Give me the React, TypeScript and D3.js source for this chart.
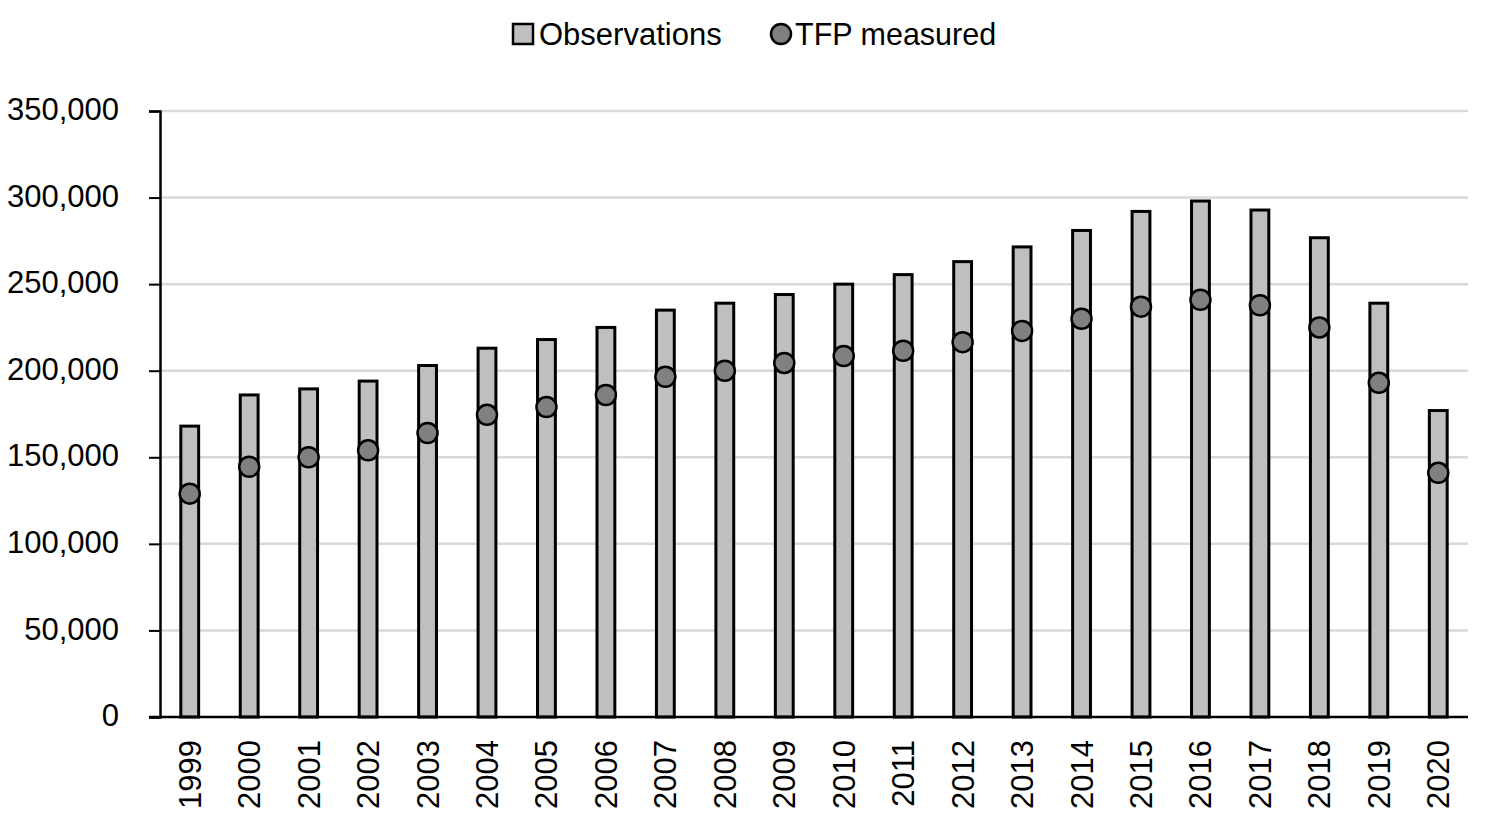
import React, { useEffect, useRef } from "react";
import * as d3 from "d3";

const years = [
  "1999", "2000", "2001", "2002", "2003", "2004", "2005", "2006", "2007", "2008", "2009",
  "2010", "2011", "2012", "2013", "2014", "2015", "2016", "2017", "2018", "2019", "2020",
];
const observations = [
  168000, 186000, 189500, 194000, 203000, 213000, 218000, 225000, 235000, 239000, 244000,
  250000, 255500, 263000, 271500, 281000, 292000, 298000, 292800, 276800, 239000, 177000,
];
const tfpMeasured = [
  129000, 144500, 150000, 154000, 164000, 174500, 179000, 186000, 196500, 200000, 204500,
  208500, 211500, 216500, 223000, 230000, 237000, 241000, 237800, 225000, 193000, 141000,
];
const yTicks = [0, 50000, 100000, 150000, 200000, 250000, 300000, 350000];

const W = 1492;
const H = 821;
const FONT = "'Liberation Sans', Arial, sans-serif";

export default function App() {
  const ref = useRef<SVGSVGElement>(null);

  useEffect(() => {
    document.body.style.margin = "0";
    const svg = d3.select(ref.current);
    svg.selectAll("*").remove();

    const left = 160, right = 1468, top = 111, bottom = 717;

    const x = d3.scaleBand().domain(years).range([left, right]).paddingInner(0.7).paddingOuter(0.35);
    const y = d3.scaleLinear().domain([0, 350000]).range([bottom, top]);
    const fmt = d3.format(",");

    // gridlines
    svg.append("g")
      .selectAll("line")
      .data(yTicks.filter((t) => t > 0))
      .enter()
      .append("line")
      .attr("x1", left)
      .attr("x2", right)
      .attr("y1", (d) => y(d))
      .attr("y2", (d) => y(d))
      .attr("stroke", "#d9d9d9")
      .attr("stroke-width", 2.5);

    // bars
    svg.append("g")
      .selectAll("rect")
      .data(observations)
      .enter()
      .append("rect")
      .attr("x", (d, i) => x(years[i])!)
      .attr("y", (d) => y(d))
      .attr("width", x.bandwidth())
      .attr("height", (d) => bottom - y(d))
      .attr("fill", "#bfbfbf")
      .attr("stroke", "#000")
      .attr("stroke-width", 3);

    // y axis
    const yAxis = svg.append("g")
      .attr("transform", `translate(${left},0)`)
      .call(d3.axisLeft(y).tickValues(yTicks).tickSize(11).tickPadding(30).tickFormat((d) => fmt(d as number)));
    yAxis.select(".domain").attr("stroke", "#000").attr("stroke-width", 2.5);
    yAxis.selectAll(".tick line").attr("stroke", "#000").attr("stroke-width", 2);
    yAxis.selectAll("text")
      .attr("font-family", FONT)
      .attr("font-size", 31)
      .attr("dy", "0.28em")
      .attr("fill", "#000");

    // x axis
    svg.append("line")
      .attr("x1", left - 11)
      .attr("x2", right)
      .attr("y1", bottom)
      .attr("y2", bottom)
      .attr("stroke", "#000")
      .attr("stroke-width", 2.5);

    svg.append("g")
      .selectAll("text")
      .data(years)
      .enter()
      .append("text")
      .attr("transform", (d) => `translate(${x(d)! + x.bandwidth() / 2 + 11},740) rotate(-90)`)
      .attr("text-anchor", "end")
      .attr("font-family", FONT)
      .attr("font-size", 31)
      .attr("fill", "#000")
      .text((d) => d);

    // dots
    svg.append("g")
      .selectAll("circle")
      .data(tfpMeasured)
      .enter()
      .append("circle")
      .attr("cx", (d, i) => x(years[i])! + x.bandwidth() / 2)
      .attr("cy", (d) => y(d))
      .attr("r", 10)
      .attr("fill", "#808080")
      .attr("stroke", "#000")
      .attr("stroke-width", 2.5);

    // legend
    const lg = svg.append("g");
    lg.append("rect")
      .attr("x", 513).attr("y", 24).attr("width", 20).attr("height", 20)
      .attr("fill", "#bfbfbf").attr("stroke", "#000").attr("stroke-width", 2.5);
    lg.append("text")
      .attr("x", 539).attr("y", 45)
      .attr("font-family", FONT).attr("font-size", 31).attr("fill", "#000")
      .text("Observations");
    lg.append("circle")
      .attr("cx", 781).attr("cy", 34).attr("r", 10)
      .attr("fill", "#808080").attr("stroke", "#000").attr("stroke-width", 2.5);
    lg.append("text")
      .attr("x", 795).attr("y", 45)
      .attr("font-family", FONT).attr("font-size", 30.5).attr("fill", "#000")
      .text("TFP measured");
  }, []);

  return <svg ref={ref} width={W} height={H} style={{ display: "block", background: "#fff" }} />;
}
